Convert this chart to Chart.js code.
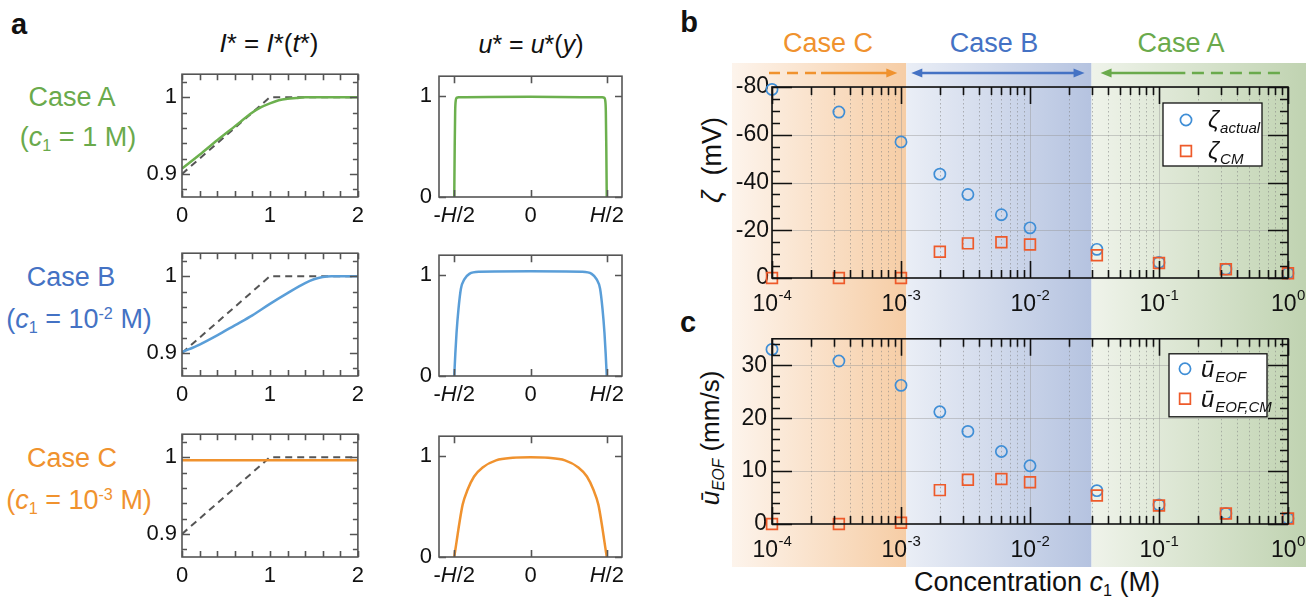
<!DOCTYPE html>
<html>
<head>
<meta charset="utf-8">
<script src="https://cdn.jsdelivr.net/npm/chart.js@4.4.0/dist/chart.umd.min.js"></script>
<style>
  body { margin: 0; width: 1306px; height: 602px; position: relative; background: #fff; overflow: hidden;
         font-family: "Liberation Sans", Arial, sans-serif; color: #111; }
  canvas { position: absolute; }
  .t { position: absolute; white-space: nowrap; line-height: 1; transform: translate(-50%, -50%); }
  .rot { transform: translate(-50%, -50%) rotate(-90deg); }
  .t sub { font-size: 0.6em; vertical-align: -0.3em; }
  .t sup { font-size: 0.6em; vertical-align: 0.6em; }
</style>
</head>
<body>

<!-- panel a texts -->
<div class="t" style="left:19px;top:24px;font-size:29px;font-weight:bold">a</div>
<div class="t" style="left:269px;top:43px;font-size:26px"><i>I</i>* = <i>I</i>*(<i>t</i>*)</div>
<div class="t" style="left:531px;top:44px;font-size:25px"><i>u</i>* = <i>u</i>*(<i>y</i>)</div>

<div class="t" style="left:72px;top:97px;font-size:27px;color:#6aaa4c">Case A</div>
<div class="t" style="left:78px;top:139px;font-size:27px;color:#6aaa4c">(<i>c</i><sub>1</sub> = 1 M)</div>
<div class="t" style="left:71px;top:277px;font-size:27px;color:#4472c4">Case B</div>
<div class="t" style="left:79px;top:320px;font-size:27px;color:#4472c4">(<i>c</i><sub>1</sub> = 10<sup>-2</sup> M)</div>
<div class="t" style="left:72px;top:458px;font-size:27px;color:#f0922e">Case C</div>
<div class="t" style="left:79px;top:501px;font-size:27px;color:#f0922e">(<i>c</i><sub>1</sub> = 10<sup>-3</sup> M)</div>

<!-- panel b / c texts -->
<div class="t" style="left:689px;top:22px;font-size:29px;font-weight:bold">b</div>
<div class="t" style="left:688px;top:322px;font-size:29px;font-weight:bold">c</div>
<div class="t" style="left:828px;top:43px;font-size:27px;color:#f0922e">Case C</div>
<div class="t" style="left:994px;top:43px;font-size:27px;color:#4472c4">Case B</div>
<div class="t" style="left:1181px;top:43px;font-size:27px;color:#6aaa4c">Case A</div>
<div class="t rot" style="left:712px;top:160px;font-size:27px"><i>ζ</i>&nbsp; (mV)</div>
<div class="t rot" style="left:712px;top:438px;font-size:26px"><i>ū</i><sub><i>EOF</i></sub> (mm/s)</div>
<div class="t" style="left:1037px;top:584px;font-size:27px">Concentration <i>c</i><sub>1</sub> (M)</div>

<canvas id="iA" width="240" height="171" style="left:130px;top:56px"></canvas>
<canvas id="iB" width="240" height="171" style="left:130px;top:235px"></canvas>
<canvas id="iC" width="240" height="171" style="left:130px;top:416px"></canvas>
<canvas id="uA" width="245" height="171" style="left:405px;top:56px"></canvas>
<canvas id="uB" width="245" height="171" style="left:405px;top:235px"></canvas>
<canvas id="uC" width="245" height="171" style="left:405px;top:416px"></canvas>
<canvas id="zeta" width="574" height="257" style="left:732px;top:63px"></canvas>
<canvas id="vel" width="574" height="247" style="left:732px;top:320px"></canvas>

<script>
// ---------- data ----------
// current ratio vs time (panel a, left column)
var tIdeal = [0, 1, 2];
var IIdeal = [0.9, 1, 1];
var tA = [0, 0.2, 0.4, 0.6, 0.8, 0.9, 1.0, 1.1, 1.2, 1.3, 1.4, 1.6, 2.0];
var IA = [0.907, 0.925, 0.944, 0.962, 0.980, 0.987, 0.992, 0.996, 0.998, 0.999, 1.0, 1.0, 1.0];
var tB = [0, 0.2, 0.4, 0.6, 0.8, 1.0, 1.2, 1.4, 1.5, 1.6, 1.7, 1.8, 2.0];
var IB = [0.901, 0.911, 0.923, 0.936, 0.949, 0.964, 0.978, 0.991, 0.996, 0.999, 1.0, 1.0, 1.0];
var tC = [0, 1, 2];
var IC = [0.996, 0.996, 0.996];

// velocity profiles (panel a, right column), y in units of H
var yA = [-0.5, -0.497, -0.494, -0.49, -0.485, -0.47, 0, 0.47, 0.485, 0.49, 0.494, 0.497, 0.5];
var uA = [0, 0.5, 0.85, 0.96, 0.985, 0.99, 0.995, 0.99, 0.985, 0.96, 0.85, 0.5, 0];
var yB = [-0.5, -0.493, -0.485, -0.472, -0.456, -0.434, -0.401, -0.336, 0, 0.336, 0.401, 0.434, 0.456, 0.472, 0.485, 0.493, 0.5];
var uB = [0, 0.22, 0.43, 0.67, 0.87, 0.96, 1.015, 1.036, 1.04, 1.036, 1.015, 0.96, 0.87, 0.67, 0.43, 0.22, 0];
var yC = [-0.5, -0.485, -0.467, -0.445, -0.412, -0.37, -0.314, -0.226, -0.116, 0, 0.116, 0.226, 0.314, 0.37, 0.412, 0.445, 0.467, 0.485, 0.5];
var uC = [0, 0.15, 0.33, 0.52, 0.67, 0.80, 0.89, 0.96, 0.985, 0.99, 0.985, 0.96, 0.89, 0.80, 0.67, 0.52, 0.33, 0.15, 0];

// panels b and c
var conc = [1e-4, 3.3e-4, 1e-3, 2e-3, 3.3e-3, 6e-3, 1e-2, 3.3e-2, 0.1, 0.33, 1];
var zetaActual = [-79, -69.5, -57, -43.5, -35, -26.5, -21, -12, -6.5, -3.7, -2];
var zetaCM = [0, 0, 0, -11, -14.5, -15, -14, -9.5, -6.3, -3.7, -2];
var uEOF = [33, 30.8, 26.2, 21.2, 17.5, 13.7, 11, 6.3, 3.6, 2.0, 1.05];
var uEOFCM = [0, 0, 0.25, 6.4, 8.35, 8.5, 7.9, 5.4, 3.5, 2.0, 1.05];
var caseBounds = [1.1e-3, 0.03];   // C | B | A

// ticks
var timeTicks = [0, 0.2, 0.4, 0.6, 0.8, 1, 1.2, 1.4, 1.6, 1.8, 2];
var timeLabels = [0, 1, 2];
var levelTicks = [0.88, 0.9, 0.92, 0.94, 0.96, 0.98, 1, 1.02];
var levelLabels = [0.9, 1];
var posTicks = [-0.5, 0, 0.5];
var posLabels = ['-H/2', '0', 'H/2'];
var speedTicks = [0, 1];
var decades = [1e-4, 1e-3, 1e-2, 1e-1, 1];
var decadeExp = ['-4', '-3', '-2', '-1', '0'];
var zetaTicks = [-80, -75, -70, -65, -60, -55, -50, -45, -40, -35, -30, -25, -20, -15, -10, -5, 0];
var zetaLabels = [-80, -60, -40, -20, 0];
var velTicks = [0, 2, 4, 6, 8, 10, 12, 14, 16, 18, 20, 22, 24, 26, 28, 30, 32, 34];
var velLabels = [0, 10, 20, 30];

var FAM = '"Liberation Sans", Arial, sans-serif';
Chart.defaults.font.family = FAM;
Chart.defaults.color = '#111';
Chart.defaults.animation = false;
Chart.defaults.responsive = false;
Chart.defaults.devicePixelRatio = 1;

var noGrid = { display: false, drawTicks: false };

function pts(xs, ys) {
    return xs.map(function (v, i) { return { x: v, y: ys[i] }; });
}

// box + inward ticks on all four sides
function framePlugin(color, width, lens) {
    return {
        id: 'frame',
        afterDraw: function (chart) {
            var ctx = chart.ctx, a = chart.chartArea;
            ctx.save();
            ctx.strokeStyle = color;
            ctx.lineWidth = width;
            ['x', 'y'].forEach(function (k) {
                var s = chart.scales[k];
                s.ticks.forEach(function (t) {
                    var p = Math.round(s.getPixelForValue(t.value)) + 0.5;
                    var len = t.major ? lens[k][0] : lens[k][1];
                    ctx.beginPath();
                    if (k === 'x') {
                        ctx.moveTo(p, a.top); ctx.lineTo(p, a.top + len);
                        ctx.moveTo(p, a.bottom); ctx.lineTo(p, a.bottom - len);
                    } else {
                        ctx.moveTo(a.left, p); ctx.lineTo(a.left + len, p);
                        ctx.moveTo(a.right, p); ctx.lineTo(a.right - len, p);
                    }
                    ctx.stroke();
                });
            });
            ctx.strokeRect(a.left, a.top, a.right - a.left, a.bottom - a.top);
            ctx.restore();
        }
    };
}

function tickSetter(list, majors) {
    return function (s) {
        s.ticks = list.map(function (v) { return { value: v, major: majors.indexOf(v) >= 0 }; });
    };
}

// ---------- panel a : I*(t*) ----------
function currentChart(id, t, I, color) {
    new Chart(document.getElementById(id), {
        type: 'line',
        data: {
            datasets: [
                { data: pts(t, I), borderColor: color, borderWidth: 2.5, pointRadius: 0, cubicInterpolationMode: 'monotone' },
                { data: pts(tIdeal, IIdeal), borderColor: '#555', borderDash: [7, 5], borderWidth: 2, pointRadius: 0, tension: 0 }
            ]
        },
        options: {
            layout: { padding: { top: 8, right: 11, left: 0, bottom: 0 } },
            plugins: { legend: { display: false }, tooltip: { enabled: false } },
            scales: {
                x: {
                    type: 'linear', min: 0, max: 2,
                    grid: noGrid, border: { display: false },
                    afterBuildTicks: tickSetter(timeTicks, timeLabels),
                    afterFit: function (s) { s.height = 30; },
                    ticks: {
                        autoSkip: false, maxRotation: 0, padding: 6, font: { size: 22 },
                        callback: function (v) { return timeLabels.indexOf(v) >= 0 ? String(v) : ''; }
                    }
                },
                y: {
                    type: 'linear', min: 0.87, max: 1.03,
                    grid: noGrid, border: { display: false },
                    afterBuildTicks: tickSetter(levelTicks, levelLabels),
                    afterFit: function (s) { s.width = 52; },
                    ticks: {
                        autoSkip: false, padding: 5, font: { size: 22 },
                        callback: function (v) { return levelLabels.indexOf(v) >= 0 ? String(v) : ''; }
                    }
                }
            }
        },
        plugins: [framePlugin('#555', 1.6, { x: [6, 6], y: [8, 5] })]
    });
}

// ---------- panel a : u*(y) ----------
var posLabelPlugin = {
    id: 'posLabels',
    afterDraw: function (chart) {
        var ctx = chart.ctx, s = chart.scales.x, base = chart.chartArea.bottom + 25;
        ctx.save();
        ctx.fillStyle = '#111';
        ctx.textAlign = 'left';
        ctx.textBaseline = 'alphabetic';
        posTicks.forEach(function (v, i) {
            var parts = posLabels[i].split(/(H)/).filter(Boolean);
            var fonts = parts.map(function (p) { return (p === 'H' ? 'italic ' : '') + '22px ' + FAM; });
            var w = 0;
            parts.forEach(function (p, j) { ctx.font = fonts[j]; w += ctx.measureText(p).width; });
            var x = s.getPixelForValue(v) - w / 2;
            parts.forEach(function (p, j) { ctx.font = fonts[j]; ctx.fillText(p, x, base); x += ctx.measureText(p).width; });
        });
        ctx.restore();
    }
};

function profileChart(id, y, u, color) {
    new Chart(document.getElementById(id), {
        type: 'line',
        data: {
            datasets: [
                { data: pts(y, u), borderColor: color, borderWidth: 2.5, pointRadius: 0, cubicInterpolationMode: 'monotone' }
            ]
        },
        options: {
            layout: { padding: { top: 8, right: 28, left: 0, bottom: 0 } },
            plugins: { legend: { display: false }, tooltip: { enabled: false } },
            scales: {
                x: {
                    type: 'linear', min: -0.6, max: 0.6,
                    grid: noGrid, border: { display: false },
                    afterBuildTicks: tickSetter(posTicks, posTicks),
                    afterFit: function (s) { s.height = 30; },
                    ticks: { display: false }
                },
                y: {
                    type: 'linear', min: 0, max: 1.2,
                    grid: noGrid, border: { display: false },
                    afterBuildTicks: tickSetter(speedTicks, speedTicks),
                    afterFit: function (s) { s.width = 34; },
                    ticks: { autoSkip: false, padding: 7, font: { size: 22 } }
                }
            }
        },
        plugins: [framePlugin('#555', 1.6, { x: [7, 7], y: [7, 7] }), posLabelPlugin]
    });
}

currentChart('iA', tA, IA, '#6cb04e');
currentChart('iB', tB, IB, '#5a9ed8');
currentChart('iC', tC, IC, '#f0922e');
profileChart('uA', yA, uA, '#6cb04e');
profileChart('uB', yB, uB, '#5a9ed8');
profileChart('uC', yC, uC, '#f0922e');

// ---------- panels b and c ----------
var concTicks = [];
decades.forEach(function (d, i) {
    concTicks.push(d);
    if (i < decades.length - 1) {
        [2, 3, 4, 5, 6, 7, 8, 9].forEach(function (m) { concTicks.push(+(m * d).toPrecision(3)); });
    }
});

var bandPlugin = {
    id: 'bands',
    beforeDraw: function (chart) {
        var ctx = chart.ctx, x = chart.scales.x;
        var edges = [0, x.getPixelForValue(caseBounds[0]), x.getPixelForValue(caseBounds[1]), chart.width];
        var cols = [['#fdf4ec', '#f6cda5'], ['#eaeef6', '#b5c3e0'], ['#eff3ea', '#c0d3b1']];
        ctx.save();
        cols.forEach(function (c, i) {
            var g = ctx.createLinearGradient(edges[i], 0, edges[i + 1], 0);
            g.addColorStop(0, c[0]);
            g.addColorStop(1, c[1]);
            ctx.fillStyle = g;
            ctx.fillRect(edges[i], 0, edges[i + 1] - edges[i], chart.height);
        });
        ctx.restore();
    },
    beforeDatasetsDraw: function (chart) {
        var ctx = chart.ctx, a = chart.chartArea, x = chart.scales.x, y = chart.scales.y;
        ctx.save();
        ctx.beginPath();
        ctx.rect(a.left, a.top, a.right - a.left, a.bottom - a.top);
        ctx.clip();
        ctx.lineWidth = 1;
        x.ticks.forEach(function (t) {
            var p = Math.round(x.getPixelForValue(t.value)) + 0.5;
            ctx.strokeStyle = t.major ? 'rgba(150,150,150,0.45)' : 'rgba(130,130,130,0.55)';
            ctx.setLineDash(t.major ? [] : [1.5, 2.5]);
            ctx.beginPath(); ctx.moveTo(p, a.top); ctx.lineTo(p, a.bottom); ctx.stroke();
        });
        ctx.setLineDash([]);
        y.ticks.forEach(function (t) {
            if (!t.major) return;
            var p = Math.round(y.getPixelForValue(t.value)) + 0.5;
            ctx.strokeStyle = 'rgba(150,150,150,0.45)';
            ctx.beginPath(); ctx.moveTo(a.left, p); ctx.lineTo(a.right, p); ctx.stroke();
        });
        ctx.restore();
    },
    afterDraw: function (chart) {
        // decade labels 10^n
        var ctx = chart.ctx, x = chart.scales.x, base = chart.chartArea.bottom + 33;
        ctx.save();
        ctx.fillStyle = '#111';
        ctx.textBaseline = 'alphabetic';
        ctx.textAlign = 'left';
        decades.forEach(function (d, i) {
            ctx.font = '23px ' + FAM;
            var w1 = ctx.measureText('10').width;
            ctx.font = '15px ' + FAM;
            var w2 = ctx.measureText(decadeExp[i]).width;
            var x0 = x.getPixelForValue(d) - (w1 + w2) / 2;
            ctx.font = '23px ' + FAM;
            ctx.fillText('10', x0, base);
            ctx.font = '15px ' + FAM;
            ctx.fillText(decadeExp[i], x0 + w1 + 0.5, base - 11);
        });
        ctx.restore();
    }
};

function legendPlugin(box, rows) {
    return {
        id: 'richLegend',
        afterDraw: function (chart) {
            var ctx = chart.ctx, a = chart.chartArea;
            var left = a.right - box.right - box.w, top = a.top + box.top;
            ctx.save();
            ctx.fillStyle = '#fff';
            ctx.fillRect(left, top, box.w, box.h);
            ctx.strokeStyle = '#111';
            ctx.lineWidth = 1.3;
            ctx.strokeRect(left, top, box.w, box.h);
            rows.forEach(function (r, i) {
                var ds = chart.data.datasets[r.ds];
                var cy = top + box.rowY[i], cx = left + box.markX;
                ctx.strokeStyle = ds.borderColor;
                ctx.lineWidth = ds.borderWidth;
                ctx.beginPath();
                if (ds.pointStyle === 'circle') {
                    ctx.arc(cx, cy, ds.pointRadius, 0, Math.PI * 2);
                } else {
                    var h = ds.pointRadius * Math.SQRT1_2;
                    ctx.rect(cx - h, cy - h, 2 * h, 2 * h);
                }
                ctx.stroke();
                ctx.fillStyle = '#111';
                ctx.textAlign = 'left';
                ctx.font = 'italic 24px ' + FAM;
                var tx = left + box.textX;
                ctx.fillText(r.main, tx, cy + 8);
                var w = ctx.measureText(r.main).width;
                ctx.font = 'italic 15px ' + FAM;
                ctx.fillText(r.sub, tx + w + 1, cy + 13);
            });
            ctx.restore();
        }
    };
}

var arrowPlugin = {
    id: 'arrows',
    afterDraw: function (chart) {
        var ctx = chart.ctx, x = chart.scales.x, y = chart.chartArea.top - 14;
        function px(v) { return x.getPixelForValue(v); }
        function seg(x0, x1, col, dash) {
            ctx.strokeStyle = col; ctx.lineWidth = 2.4; ctx.setLineDash(dash || []);
            ctx.beginPath(); ctx.moveTo(x0, y); ctx.lineTo(x1, y); ctx.stroke();
            ctx.setLineDash([]);
        }
        function head(xt, dir, col) {
            ctx.fillStyle = col;
            ctx.beginPath(); ctx.moveTo(xt, y); ctx.lineTo(xt - dir * 11, y - 4.5); ctx.lineTo(xt - dir * 11, y + 4.5);
            ctx.closePath(); ctx.fill();
        }
        ctx.save();
        var o = '#f0922e', b = '#4472c4', g = '#6aaa4c';
        seg(px(1e-4) - 3, px(2.2e-4), o, [11, 7]);
        seg(px(2.4e-4), px(caseBounds[0]) - 18, o);
        head(px(caseBounds[0]) - 9, 1, o);
        seg(px(caseBounds[0]) + 14, px(caseBounds[1]) - 16, b);
        head(px(caseBounds[0]) + 5, -1, b);
        head(px(caseBounds[1]) - 7, 1, b);
        head(px(caseBounds[1]) + 9, -1, g);
        seg(px(caseBounds[1]) + 17, px(0.16), g);
        seg(px(0.18), px(1) - 2, g, [12, 7]);
        ctx.restore();
    }
};

function concChart(id, padTop, axisH, sets, yOpts, extra) {
    new Chart(document.getElementById(id), {
        type: 'scatter',
        data: { datasets: sets },
        options: {
            layout: { padding: { top: padTop, right: 18, left: 0, bottom: 0 } },
            plugins: { legend: { display: false }, tooltip: { enabled: false } },
            scales: {
                x: {
                    type: 'logarithmic', min: 1e-4, max: 1,
                    grid: noGrid, border: { display: false },
                    afterBuildTicks: tickSetter(concTicks, decades),
                    afterFit: function (s) { s.height = axisH; },
                    ticks: { display: false }
                },
                y: yOpts
            }
        },
        plugins: [bandPlugin, framePlugin('#111', 1.6, { x: [17, 8], y: [20, 8] })].concat(extra)
    });
}

function squares(xs, ys) {
    return { data: pts(xs, ys), pointStyle: 'rect', pointRadius: 7.6, borderColor: '#ee5a2a', borderWidth: 1.7,
             backgroundColor: 'rgba(0,0,0,0)', clip: false };
}
function circles(xs, ys) {
    return { data: pts(xs, ys), pointStyle: 'circle', pointRadius: 5.6, borderColor: '#3f8ed6', borderWidth: 1.7,
             backgroundColor: 'rgba(0,0,0,0)', clip: false };
}

concChart('zeta', 24, 42, [squares(conc, zetaCM), circles(conc, zetaActual)], {
    type: 'linear', min: -80, max: 0, reverse: true,
    grid: noGrid, border: { display: false },
    afterBuildTicks: tickSetter(zetaTicks, zetaLabels),
    afterFit: function (s) { s.width = 40; },
    ticks: {
        autoSkip: false, padding: 3, font: { size: 23 },
        callback: function (v) { return zetaLabels.indexOf(v) >= 0 ? String(v) : ''; }
    }
}, [arrowPlugin, legendPlugin({ right: 26, top: 16, w: 99, h: 63, markX: 23, textX: 45, rowY: [17, 48] },
    [{ ds: 1, main: 'ζ', sub: 'actual' }, { ds: 0, main: 'ζ', sub: 'CM' }])]);

concChart('vel', 13, 43, [squares(conc, uEOFCM), circles(conc, uEOF)], {
    type: 'linear', min: 0, max: 35,
    grid: noGrid, border: { display: false },
    afterBuildTicks: tickSetter(velTicks, velLabels),
    afterFit: function (s) { s.width = 40; },
    ticks: {
        autoSkip: false, padding: 5, font: { size: 23 },
        callback: function (v) { return velLabels.indexOf(v) >= 0 ? String(v) : ''; }
    }
}, [legendPlugin({ right: 21, top: 15, w: 98, h: 63, markX: 16, textX: 32, rowY: [15, 45] },
    [{ ds: 1, main: 'ū', sub: 'EOF' }, { ds: 0, main: 'ū', sub: 'EOF,CM' }])]);
</script>
</body>
</html>
